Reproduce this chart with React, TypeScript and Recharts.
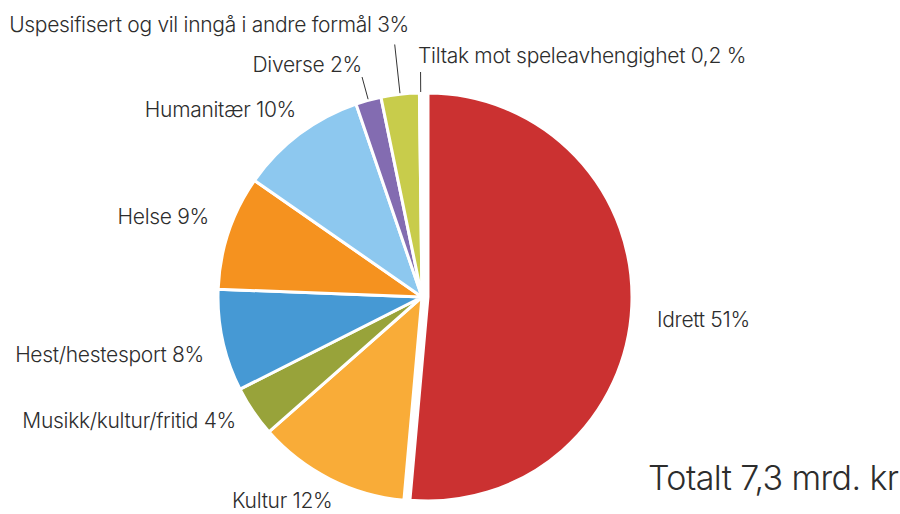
import { PieChart, Pie, Cell } from 'recharts';

const categories = [
  'Idrett',
  'Kultur',
  'Musikk/kultur/fritid',
  'Hest/hestesport',
  'Helse',
  'Humanitær',
  'Diverse',
  'Uspesifisert og vil inngå i andre formål',
  'Tiltak mot speleavhengighet',
];
const shares = [51, 12, 4, 8, 9, 10, 2, 3, 0.2];
const shareLabels = ['51%', '12%', '4%', '8%', '9%', '10%', '2%', '3%', '0,2 %'];
const colors = ['#CB3131', '#F9AC38', '#98A33A', '#4699D4', '#F5921F', '#8DC8EF', '#836CB1', '#C8CC4B', '#3B1D47'];

const data = categories.map((name, i) => ({ name, value: shares[i], text: `${name} ${shareLabels[i]}` }));

// label placement (text x/baseline y, anchor) and leader line length
const labelSpots: Record<string, { x: number; y: number; anchor: 'start' | 'end'; line?: number }> = {
  Idrett: { x: 657, y: 327, anchor: 'start' },
  Kultur: { x: 232, y: 508, anchor: 'start' },
  'Musikk/kultur/fritid': { x: 236, y: 428, anchor: 'end' },
  'Hest/hestesport': { x: 204, y: 362, anchor: 'end' },
  Helse: { x: 209, y: 224, anchor: 'end' },
  Humanitær: { x: 296, y: 117, anchor: 'end' },
  Diverse: { x: 362, y: 72, anchor: 'end', line: 24 },
  'Uspesifisert og vil inngå i andre formål': { x: 409, y: 32, anchor: 'end', line: 50 },
  'Tiltak mot speleavhengighet': { x: 418, y: 63, anchor: 'start', line: 21 },
};

const RAD = Math.PI / 180;
const CX = 422;
const CY = 297;
const R = 204;
const EXPLODE = 6;
const FONT = "Inter, 'Noto Sans', sans-serif";

const renderLabel = (props: any) => {
  const { cx, cy, midAngle, outerRadius, name, payload } = props;
  const spot = labelSpots[name];
  if (!spot) return null;
  const cos = Math.cos(-midAngle * RAD);
  const sin = Math.sin(-midAngle * RAD);
  return (
    <g>
      {spot.line ? (
        <line
          x1={cx + (outerRadius + 1) * cos}
          y1={cy + (outerRadius + 1) * sin}
          x2={cx + (outerRadius + spot.line) * cos}
          y2={cy + (outerRadius + spot.line) * sin}
          stroke="#333"
          strokeWidth={1}
        />
      ) : null}
      <text
        x={spot.x}
        y={spot.y}
        textAnchor={spot.anchor}
        fill="#2d2d2d"
        fontSize={21}
        fontFamily={FONT}
        fontWeight={300}
        letterSpacing={-0.3}
      >
        {payload.text}
      </text>
    </g>
  );
};

export default function App() {
  return (
    <div
      style={{
        position: 'fixed',
        top: 0,
        left: 0,
        width: 900,
        height: 514,
        background: '#fff',
        overflow: 'hidden',
      }}
    >
      <PieChart width={900} height={514} margin={{ top: 0, right: 0, bottom: 0, left: 0 }}>
        <Pie
          data={data}
          dataKey="value"
          nameKey="name"
          cx={CX}
          cy={CY}
          outerRadius={R}
          startAngle={90}
          endAngle={-270}
          stroke="#fff"
          strokeWidth={3}
          label={renderLabel}
          labelLine={false}
          isAnimationActive={false}
        >
          {data.map((d, i) => (
            <Cell key={d.name} fill={i === 0 ? 'transparent' : colors[i]} stroke={i === 0 ? 'none' : '#fff'} />
          ))}
        </Pie>
        <Pie
          data={data}
          dataKey="value"
          nameKey="name"
          cx={CX + EXPLODE}
          cy={CY}
          outerRadius={R}
          startAngle={90}
          endAngle={-270}
          stroke="#fff"
          strokeWidth={3}
          isAnimationActive={false}
        >
          {data.map((d, i) => (
            <Cell key={d.name} fill={i === 0 ? colors[0] : 'transparent'} stroke={i === 0 ? '#fff' : 'none'} />
          ))}
        </Pie>
      </PieChart>
      <div
        style={{
          position: 'absolute',
          left: 648,
          top: 456,
          fontSize: 34,
          fontFamily: FONT,
          fontWeight: 300,
          letterSpacing: -0.6,
          color: '#2d2d2d',
          lineHeight: '44px',
          whiteSpace: 'nowrap',
        }}
      >
        Totalt 7,3 mrd. kr
      </div>
    </div>
  );
}
